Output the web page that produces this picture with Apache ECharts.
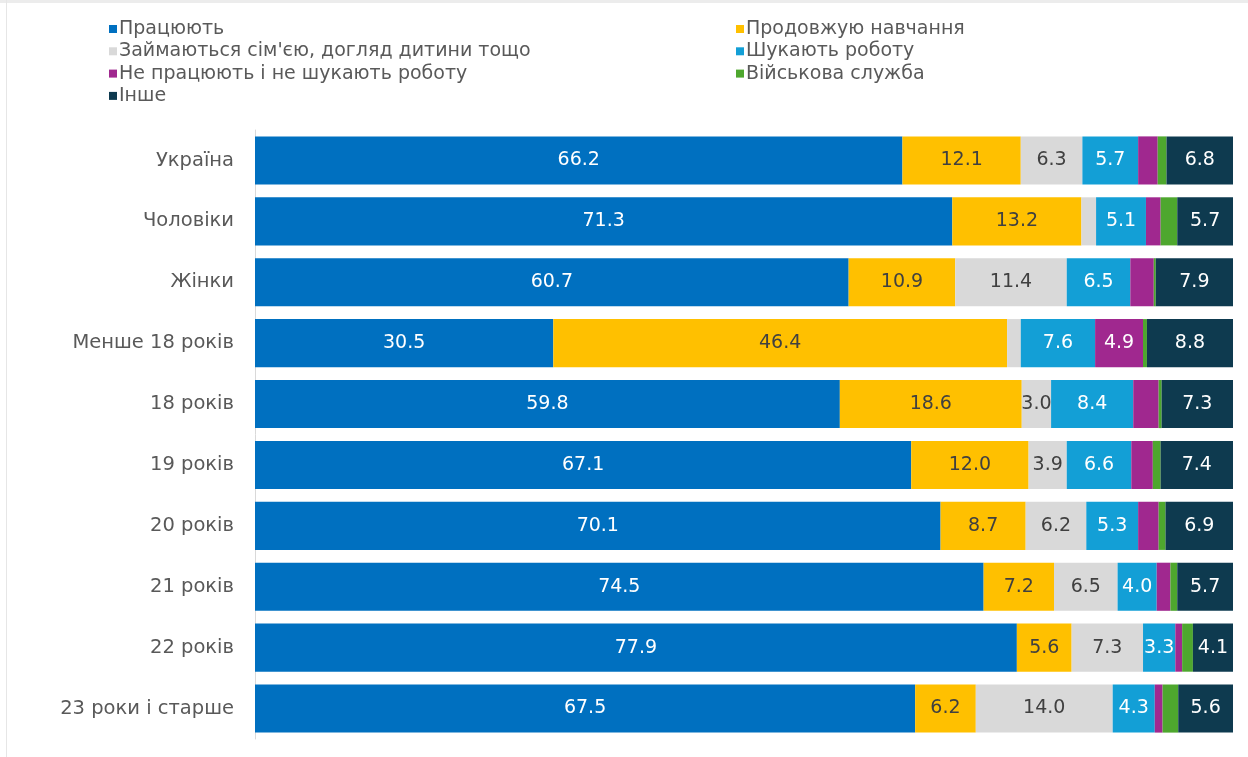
<!DOCTYPE html>
<html><head><meta charset="utf-8">
<script src="https://cdn.jsdelivr.net/npm/echarts@6/dist/echarts.min.js"></script>
<style>html,body{margin:0;padding:0;background:#fff}#c{width:1248px;height:757px}</style>
</head><body><div id="c"></div>
<script>
const categories = ['Україна','Чоловіки','Жінки','Менше 18 років','18 років','19 років','20 років','21 років','22 років','23 роки і старше'];
const seriesNames = ['Працюють','Продовжую навчання','Займаються сім\'єю, догляд дитини тощо','Шукають роботу','Не працюють і не шукають роботу','Військова служба','Інше'];
const working   = [66.2,71.3,60.7,30.5,59.8,67.1,70.1,74.5,77.9,67.5];
const studying  = [12.1,13.2,10.9,46.4,18.6,12.0,8.7,7.2,5.6,6.2];
const family    = [6.3,1.5,11.4,1.4,3.0,3.9,6.2,6.5,7.3,14.0];
const seeking   = [5.7,5.1,6.5,7.6,8.4,6.6,5.3,4.0,3.3,4.3];
const inactive  = [2.0,1.5,2.4,4.9,2.6,2.2,2.1,1.4,0.7,0.8];
const military  = [0.9,1.7,0.2,0.4,0.3,0.8,0.7,0.7,1.1,1.6];
const other     = [6.8,5.7,7.9,8.8,7.3,7.4,6.9,5.7,4.1,5.6];

const values = [working,studying,family,seeking,inactive,military,other];
const colors = ['#0070C0','#FFC000','#D9D9D9','#139FD6','#A0288F','#4EA72E','#0E3A4F'];
const labelColors = ['#fff','#404040','#404040','#fff','#fff','#fff','#fff'];
const font = '"DejaVu Sans", sans-serif';

const chart = echarts.init(document.getElementById('c'));
const series = seriesNames.map((n,i)=>({
  name:n, type:'bar', stack:'all', barCategoryGap:'21%',
  data: values[i],
  itemStyle:{color:colors[i]},
  label:{show:true, position:'inside', color:labelColors[i], fontSize:19, fontFamily:font,
    formatter:p=> p.value>=2.95 ? p.value.toFixed(1) : ''},
  emphasis:{disabled:true}
}));
const legendCommon = {orient:'vertical', itemWidth:8, itemHeight:8, icon:'rect', itemGap:2.3,
  textStyle:{fontSize:19, color:'#595959', fontFamily:font, lineHeight:20, padding:[0,0,0,-3]}, selectedMode:false};
chart.setOption({
  animation:false,
  textStyle:{fontFamily:font},
  graphic:[
    {type:'rect', shape:{x:0,y:0,width:1248,height:3}, style:{fill:'#ececec'}},
    {type:'rect', shape:{x:6,y:0,width:1,height:757}, style:{fill:'#e6e6e6'}}
  ],
  legend:[
    Object.assign({left:104, top:14, data:[seriesNames[0],seriesNames[2],seriesNames[4],seriesNames[6]]}, legendCommon),
    Object.assign({left:731, top:14, data:[seriesNames[1],seriesNames[3],seriesNames[5]]}, legendCommon)
  ],
  grid:{left:255, right:15, top:130, bottom:18, containLabel:false},
  xAxis:{type:'value', min:0, max:100, show:false},
  yAxis:{type:'category', data:categories, inverse:true,
    axisLine:{show:true, lineStyle:{color:'#d9d9d9', width:1}},
    axisTick:{show:false},
    axisLabel:{fontSize:19.5, color:'#595959', margin:21, fontFamily:font}},
  series
});
</script></body></html>
